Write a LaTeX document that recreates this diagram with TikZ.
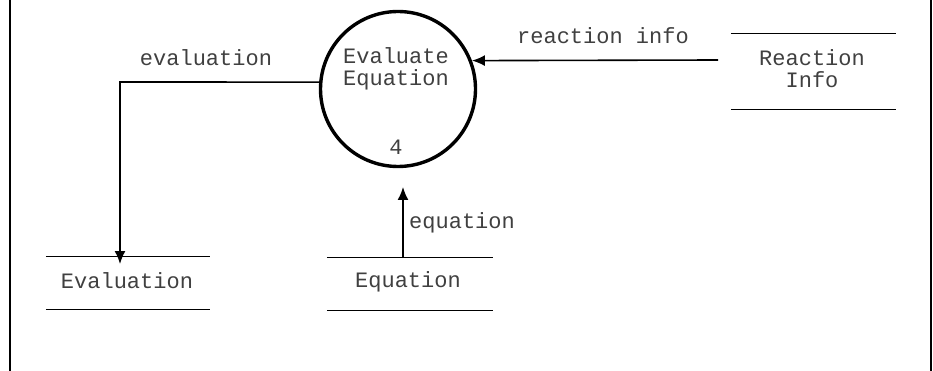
\documentclass[tikz,border=0pt]{standalone}
\usepackage{fontspec}
\setmonofont{Liberation Mono}
\usetikzlibrary{arrows.meta}
\begin{document}
\begin{tikzpicture}[x=1pt,y=-1pt,
  txt/.style={font=\ttfamily\fontsize{22}{24}\selectfont, text=black!75, inner sep=0pt, align=center},
  proc/.style={circle, draw, line width=3.4pt, minimum size=155pt, inner sep=0pt},
  store/.style={minimum width=#1, minimum height=52pt, inner sep=0pt},
  storeline/.style={line width=1.2pt},
  flow/.style={line width=1.6pt, -{Latex[length=13pt,width=11pt]}},
  frameline/.style={line width=1.4pt}]
\useasboundingbox (0,0) rectangle (933,371);
% frame
\coordinate (fl1) at (10,0); \coordinate (fl2) at (10,371);
\coordinate (fr1) at (931,0); \coordinate (fr2) at (931,371);
\draw[frameline] (fl1) -- (fl2);
\draw[frameline] (fr1) -- (fr2);
% process
\node[proc] (ep) at (398,89) {};
\node[txt] (eptxt) at (396,69) {Evaluate\\[-2pt]Equation};
\node[txt] (epnum) at (396,147) {4};
% stores
\node[store=164pt] (es) at (128,283) {};
\node[txt] at (127,281) {Evaluation};
\draw[storeline] (es.north west) -- (es.north east);
\draw[storeline] (es.south west) -- (es.south east);
\node[store=166pt] (eq) at (410,284) {};
\node[txt] at (408,282) {Equation};
\draw[storeline] (eq.north west) -- (eq.north east);
\draw[storeline] (eq.south west) -- (eq.south east);
\node[store=165pt, minimum height=75pt] (rs) at (813.5,71.5) {};
\node[txt] at (812,69) {Reaction\\[-2pt]Info};
\draw[storeline] (rs.north west) -- (rs.north east);
\draw[storeline] (rs.south west) -- (rs.south east);
% flows
\coordinate (rsout) at (718,60);
\draw[flow] (rsout) -- (ep.21.5);
\node[txt] (lri) at (603,36) {reaction info};
\coordinate (evbend) at (120,82);
\coordinate (evend) at (120,257);
\draw[flow] (ep.175) -- (evbend) -- ([yshift=-7pt]evend);
\node[txt] (lev) at (206,58) {evaluation};
\coordinate (eqout) at (403,258);
\coordinate (eqin) at (403,187);
\draw[flow] (eqout) -- (eqin);
\node[txt, anchor=west] (leq) at (409,223) {equation};
\end{tikzpicture}
\end{document}
